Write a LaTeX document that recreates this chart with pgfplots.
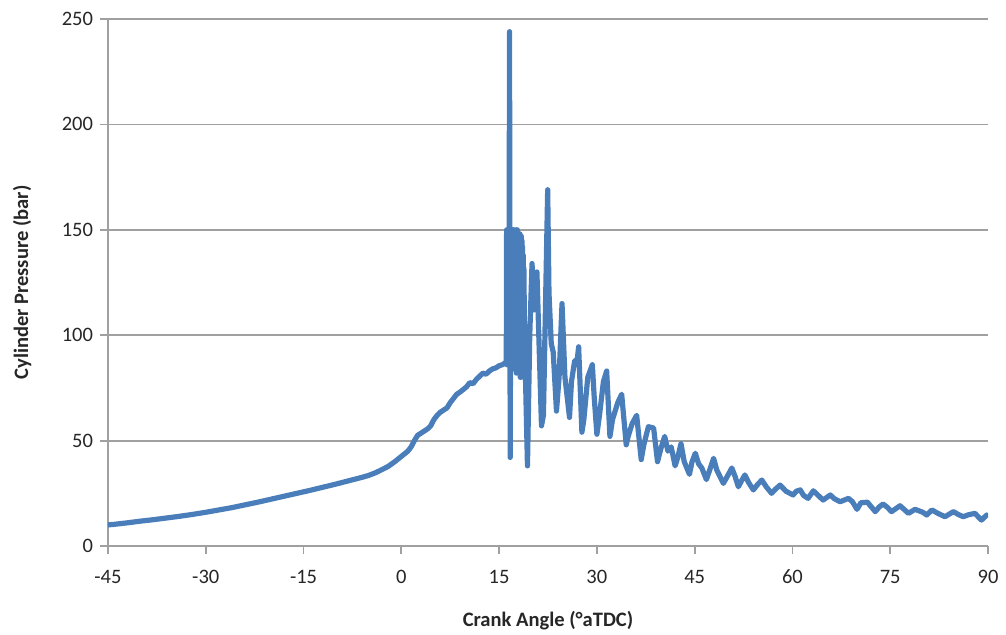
\documentclass[border=0pt]{standalone}
\usepackage{fontspec}
\setmainfont{Carlito}
\usepackage{pgfplots}
\pgfplotsset{compat=1.18}
\definecolor{excelblue}{RGB}{74,126,187}
\definecolor{gridgray}{RGB}{160,160,160}
\begin{document}
\begin{tikzpicture}
\begin{axis}[
    name=ax,
    scale only axis,
    width=440bp, height=263.5bp,
    xmin=-45, xmax=90, ymin=0, ymax=250,
    xtick={-45,-30,...,90}, ytick={0,50,...,250},
    axis x line*=bottom, axis y line*=left,
    axis line style={gridgray, line width=0.9bp, -},
    ymajorgrids,
    major grid style={gridgray, line width=0.9bp},
    tick align=outside, major tick length=4bp,
    tick style={gridgray, line width=0.9bp},
    /pgf/number format/assume math mode=true,
    ticklabel style={font=\fontsize{10.3}{12}\selectfont, text=black!85},
    xticklabel shift=4.5bp,
    xlabel={Crank Angle (°aTDC)},
    ylabel={Cylinder Pressure (bar)},
    label style={font=\bfseries\fontsize{10.3}{12}\selectfont, text=black!85},
    xlabel style={at={(axis description cs:0.5,-0.1423)}, anchor=center},
    ylabel style={at={(axis description cs:-0.0977,0.5)}, anchor=center},
]
\addplot[excelblue, line width=2.6bp, line join=round, no marks] coordinates {
  (-45,10)(-44,10.3)(-42,11)(-40,11.8)(-38,12.5)(-36,13.3)(-34,14.1)(-32,15)
  (-30,16)(-28,17.1)(-26,18.2)(-24,19.5)(-22,20.8)(-20,22.2)(-18,23.6)(-16,25)
  (-14,26.4)(-12,27.9)(-10,29.4)(-8,31)(-6,32.6)(-5,33.5)(-4,34.7)(-3,36.2)
  (-2,37.8)(-1,40)(0,42.5)(1,45)(1.5,47)(2,50)(2.5,52.5)(3,53.5)(4,55.5)
  (4.5,57)(5,60)(5.5,62)(6,63.5)(7,65.5)(7.5,68)(8,70)(8.5,72)(9,73)
  (10,75.5)(10.5,77.5)(11,77)(11.5,79)(12,80.5)(12.5,82)(13,81.5)(13.5,83)
  (14,84)(14.5,84.5)(15,85.5)(15.5,86)(16,87)
  (16.1,88)(16.15,150)(16.2,86)(16.25,150)(16.3,86)(16.35,150)(16.4,86)
  (16.45,150)(16.5,86)(16.6,244)(16.7,42)
  (16.8,150)(16.85,85)(16.9,150)(16.95,85)(17.0,150)(17.05,84)(17.1,150)
  (17.15,84)(17.2,150)(17.25,86)(17.3,150)(17.35,86)(17.4,149)(17.45,85)
  (17.5,149)(17.55,84)(17.6,150)(17.65,82)(17.7,150)(17.75,83)(17.8,150)
  (17.85,84)(17.9,149)(17.95,84)(18.0,148)(18.05,82)(18.1,148)(18.15,82)
  (18.2,148)(18.25,80)(18.3,147)(18.35,80)(18.4,147)(18.45,81)(18.5,145)
  (18.55,81)(18.6,142)(18.65,82)(18.7,138)(18.75,84)(18.8,132)
  (18.9,100)(19.35,38)(19.7,100)
  (20.05,134)(20.4,112)(20.8,130)(21.5,57)(21.8,62)(22.45,169)(22.65,120)
  (23.0,96)(23.3,92)(23.8,64)(24.2,80)(24.65,115)(25.1,80)(25.8,61)(26.1,78)
  (26.6,88)(26.9,86)(27.2,94.5)(27.7,54)(28.0,60)(28.6,80)(29.3,86)(29.6,70)
  (30.0,53)(30.4,62)(31.0,78)(31.5,83)(32.0,52)(32.4,60)(33.2,68)(33.8,72)
  (34.5,48)(34.8,52)(35.4,58)(36.1,62)(36.8,41)(37.2,48)(37.9,56.6)(38.7,56)
  (39.3,40)(39.8,46)(40.4,52)(40.9,45)(41.4,47)(42.0,38)(42.4,42)(42.9,48.5)
  (43.4,40)(44.2,34)(44.6,40)(45.1,44)(45.6,39)(46.1,37)(46.8,31.5)(47.3,36)
  (47.9,41.6)(48.4,36)(49.4,29.7)(50.0,33)(50.7,37)(51.2,33)(51.7,28.1)
  (52.2,31)(52.7,33.7)(53.3,30)(54.0,26.6)(54.6,29)(55.3,31.3)(56.0,28)
  (56.8,25)(57.4,27)(58.1,28.9)(59,26)(60.1,24.2)(60.6,26)(61.2,26.6)(61.7,24)
  (62.4,22.6)(63.2,26.2)(64.7,21.8)(65.8,24.2)(66.4,22.5)(67.3,21)(68.6,22.6)
  (69.2,21)(69.9,17.4)(70.5,20.5)(71.5,20.8)(72.7,16.3)(73.3,18.5)(73.9,19.9)
  (74.5,18.5)(75.2,16.3)(76.5,19.1)(77.8,15.5)(78.8,17.4)(80.0,16)(80.6,14.7)
  (81.4,17.1)(82.3,15.5)(83.4,13.9)(84.7,16.3)(85.4,15)(86.2,13.9)(87.0,14.8)
  (88.0,15.5)(88.6,13.5)(89.0,12.3)(89.8,14.7)(90,14.2)
};
\end{axis}
\pgfresetboundingbox
\path ([shift={(-54bp,-44.5bp)}]ax.south west) rectangle ([shift={(9bp,9.5bp)}]ax.north east);
\end{tikzpicture}
\end{document}
